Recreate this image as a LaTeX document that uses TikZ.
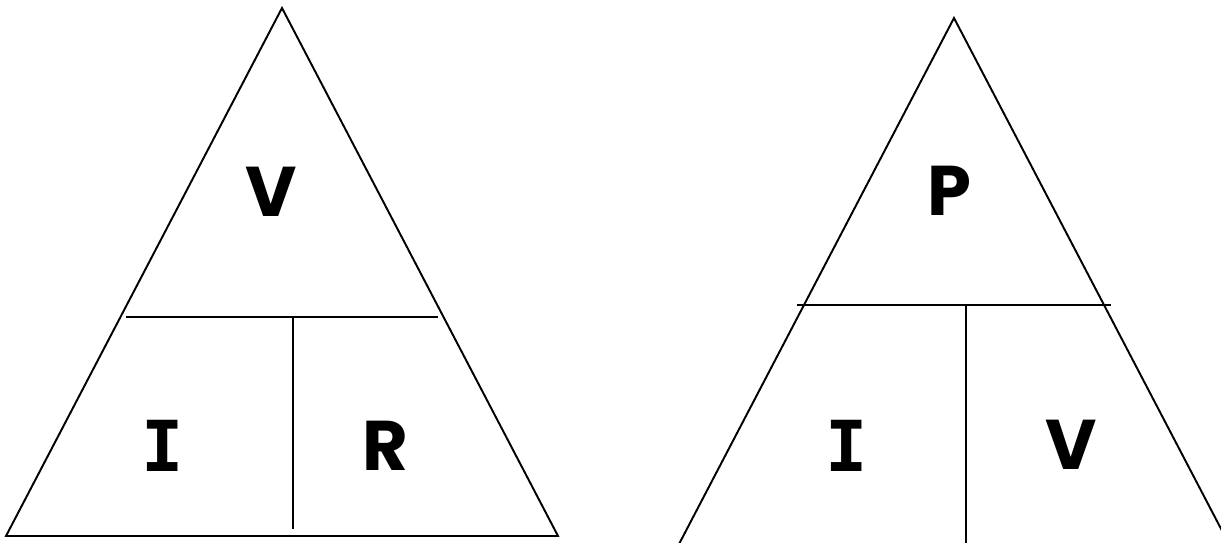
\documentclass[tikz,border=0pt]{standalone}
\usepackage{fontspec}
\setmainfont{Poppins}
\newfontfamily\barfont{DejaVu Sans Mono}
\usetikzlibrary{positioning}
\usetikzlibrary{calc}

\begin{document}
\begin{tikzpicture}[x=0.01cm, y=-0.01cm, every node/.style={font=\fontsize{20}{24}\selectfont\bfseries, inner sep=0pt}, edge/.style={line width=0.55pt}, barred/.style={font=\fontsize{20}{24}\selectfont\barfont\bfseries}]
        % Fix the page size
        \useasboundingbox (0,0) rectangle (1221,543);
        \clip (0,0) rectangle (1221,543);

        % Left triangle: V = I R
        \coordinate (A1) at (282,8);
        \coordinate (B1) at (6,536);
        \coordinate (C1) at (558,536);
        \coordinate (H1l) at (126,317);
        \coordinate (H1r) at (438,317);
        \coordinate (M1t) at (293,317);
        \coordinate (M1b) at (293,529);

        \draw[edge] (A1) -- (B1) -- (C1) -- cycle;
        \draw[edge] (H1l) -- (H1r);
        \draw[edge] (M1t) -- (M1b);

        \node (v1) at (271,192) {V};
        \node[barred] (i1) at (163,446) {I};
        \node (r1) at (385,446) {R};

        % Right triangle: P = I V (cut off at the page edge)
        \coordinate (A2) at (954,18);
        \coordinate (B2) at (678,546);
        \coordinate (C2) at (1230,546);
        \coordinate (H2l) at (797,305);
        \coordinate (H2r) at (1111,305);
        \coordinate (M2t) at (966,305);
        \coordinate (M2b) at (966,546);

        \draw[edge] (B2) -- (A2) -- (C2);
        \draw[edge] (H2l) -- (H2r);
        \draw[edge] (M2t) -- (M2b);

        \node (p2) at (949,191) {P};
        \node[barred] (i2) at (847,446) {I};
        \node (v2) at (1071,445) {V};
      \end{tikzpicture}
\end{document}
